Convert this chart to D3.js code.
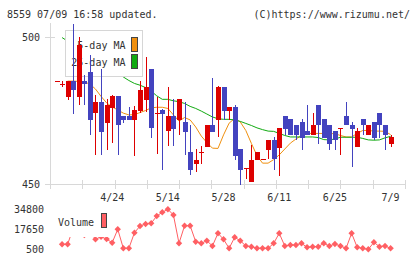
<!DOCTYPE html>
<html><head><meta charset="utf-8">
<script src="https://cdn.jsdelivr.net/npm/d3@7"></script>
<style>
html,body{margin:0;padding:0;background:#fff;}
svg{display:block;}
text{font-family:"DejaVu Sans Mono",monospace;font-size:10px;fill:#333;}
</style></head><body>
<svg id="c" width="420" height="259"></svg>
<script>
const titleText = "8559 07/09 16:58 updated.";
const creditText = "(C)https://www.rizumu.net/";
const dateIdx = [10, 20, 30, 40, 50, 60];
const dateText = ["4/24", "5/14", "5/28", "6/11", "6/25", "7/9"];
const priceTicks = [450, 500];
const volTicks = [500, 17650, 34800];

const open = [485.0,483.9,479.6,485.0,479.6,485.0,488.1,474.0,478.0,470.9,476.0,479.9,473.0,473.0,471.9,475.0,478.7,489.2,474.0,475.1,
  467.9,473.1,471.9,471.1,460.9,456.9,460.8,462.6,470.0,471.9,483.0,474.8,476.2,462.0,455.0,450.7,458.1,458.2,461.7,465.1,
  462.2,473.1,472.0,470.0,471.1,468.0,466.8,476.8,472.0,470.0,467.9,468.8,473.0,470.0,462.6,472.0,466.8,471.1,474.1,470.0,463.7];
const high = [485.0,485.0,485.0,504.5,500.0,487.0,493.9,480.3,489.1,478.9,480.2,480.0,473.0,476.3,476.5,485.0,493.2,489.2,479.6,475.5,
  483.0,478.9,479.0,477.9,470.0,462.0,462.9,470.2,486.1,483.2,483.0,476.2,477.0,462.0,455.3,463.2,460.9,458.6,465.1,466.0,
  469.0,473.1,472.0,470.0,472.0,476.8,474.1,476.8,472.0,470.0,467.9,468.9,477.9,471.1,469.0,472.0,470.0,471.1,474.1,470.0,466.8];
const low = [485.0,483.0,478.6,473.9,476.9,476.8,466.7,459.7,459.7,461.6,463.9,459.7,470.9,471.9,459.6,474.1,474.5,465.6,460.2,454.8,
  462.9,463.0,466.8,459.8,453.0,454.1,456.9,462.6,467.7,466.0,471.9,471.9,458.1,449.8,451.8,450.7,458.1,458.0,458.6,454.9,
  452.8,466.8,466.8,464.9,461.6,466.8,466.8,463.7,465.8,461.7,461.7,459.8,470.0,455.8,462.6,466.8,466.8,464.9,465.8,461.6,462.6];
const close = [485.0,484.0,485.0,481.9,497.3,483.9,471.9,478.0,467.8,476.9,479.9,469.9,471.9,471.9,475.1,481.9,483.0,468.9,474.1,473.9,
  473.1,468.8,478.8,467.7,454.9,458.1,460.9,470.0,467.7,483.0,474.8,476.2,459.5,454.9,455.3,458.3,460.9,458.4,465.1,458.6,
  469.0,468.8,466.8,466.8,465.8,466.8,470.0,470.0,465.8,463.7,464.9,468.9,470.0,468.8,467.9,470.0,470.0,465.8,470.0,466.8,466.0];
const ma5 = [null,null,485.0,485.0,484.9,484.7,484.0,482.3,479.8,477.6,476.2,475.2,474.1,473.5,473.6,474.3,475.0,475.9,476.1,476.1,
  475.7,473.5,471.4,472.6,471.8,469.4,466.3,464.1,462.2,462.1,466.7,470.7,472.3,471.1,468.2,463.8,459.7,457.1,457.1,458.3,
  459.9,461.9,463.9,465.3,466.5,467.2,467.2,467.2,467.2,467.2,467.1,466.5,466.0,466.0,467.2,468.2,468.2,468.0,468.0,467.9,466.8];
const ma25 = [null,499.8,498.6,497.6,496.5,495.3,494.2,493.0,491.6,490.3,489.0,487.6,486.4,485.2,484.2,483.6,482.8,481.6,480.0,478.8,
  478.8,478.3,478.0,477.4,476.4,475.7,474.8,473.8,472.8,472.2,472.0,472.0,471.8,471.3,470.6,469.9,469.1,468.5,468.0,467.9,
  467.2,466.5,466.0,466.0,466.0,466.0,466.0,465.8,465.1,465.0,465.3,465.9,465.9,465.9,465.9,465.5,465.0,464.9,465.0,465.7,466.2];
const volume = [null,4530,4530,18500,24000,12500,15500,8800,11000,9000,5900,17390,1100,1100,14480,20220,21940,22540,28800,31970,
  34540,29660,5390,20480,20480,6760,5390,7620,3070,13960,8820,1100,10530,7620,3070,2470,1100,1100,1100,5390,
  13960,3070,3930,3930,5390,1960,2470,2470,5390,3070,4790,3070,1100,13960,1960,1100,240,6250,2470,3070,1100];

const RED = "#dd0000", BLUE = "#4343bf", ORANGE = "#f0900f", GREEN = "#11aa11", VOL = "#ff5f63", AXIS = "#d8d8d8";

const svg = d3.select("#c");
const idx = d3.range(open.length);
const x = d3.scaleLinear().domain([0, 60]).range([56.5, 390.6]);
const y = d3.scaleLinear().domain([450, 500]).range([184, 37]);
const yv = d3.scaleLinear().domain([500, 34800]).range([249, 209]);
const tickPos = d3.scaleLinear().domain([0, 11]).range([50, 405]);

// header
svg.append("text").attr("x", 7).attr("y", 18).text(titleText);
svg.append("text").attr("x", 410).attr("y", 18).attr("text-anchor", "end").text(creditText);

// axes
const ax = svg.append("g").attr("shape-rendering", "crispEdges").attr("stroke", AXIS);
ax.append("line").attr("x1", 50.5).attr("x2", 50.5).attr("y1", 23).attr("y2", 189);
ax.append("line").attr("x1", 45).attr("x2", 405).attr("y1", 184.5).attr("y2", 184.5);
ax.selectAll("line.pt").data(priceTicks).enter().append("line")
  .attr("x1", 45).attr("x2", 55).attr("y1", d => Math.round(y(d)) + 0.5).attr("y2", d => Math.round(y(d)) + 0.5);
ax.selectAll("line.xt").data(d3.range(12)).enter().append("line")
  .attr("x1", d => Math.round(tickPos(d)) + 0.5).attr("x2", d => Math.round(tickPos(d)) + 0.5)
  .attr("y1", 180).attr("y2", 189);

svg.selectAll("text.py").data(priceTicks).enter().append("text")
  .attr("x", 40).attr("y", d => y(d) + 3.5).attr("text-anchor", "end").text(d => d);
svg.selectAll("text.dl").data(dateIdx).enter().append("text")
  .attr("x", d => x(d)).attr("y", 201).attr("text-anchor", "middle").text((d, k) => dateText[k]);
svg.selectAll("text.vy").data(volTicks).enter().append("text")
  .attr("x", 44).attr("y", d => yv(d) + 3.5).attr("text-anchor", "end").text(d => d);

// moving averages
function maLine(arr, color) {
  const line = d3.line().defined(d => arr[d] != null).x(d => x(d)).y(d => y(arr[d]));
  svg.append("path").datum(idx).attr("d", line).attr("fill", "none")
    .attr("stroke", color).attr("stroke-width", 1);
}
maLine(ma5, ORANGE);
maLine(ma25, GREEN);

// legend (main)
const lg = svg.append("g");
lg.append("rect").attr("x", 65.5).attr("y", 30.5).attr("width", 77).attr("height", 46)
  .attr("fill", "#fff").attr("stroke", "#d6d6d6").attr("shape-rendering", "crispEdges");
lg.append("text").attr("x", 125.5).attr("y", 49).attr("text-anchor", "end").text("5-day MA");
lg.append("text").attr("x", 125.5).attr("y", 66).attr("text-anchor", "end").text("25-day MA");
lg.append("rect").attr("x", 131.5).attr("y", 37.5).attr("width", 6).attr("height", 14)
  .attr("fill", ORANGE).attr("stroke", "#444").attr("shape-rendering", "crispEdges");
lg.append("rect").attr("x", 131.5).attr("y", 54.5).attr("width", 6).attr("height", 14)
  .attr("fill", GREEN).attr("stroke", "#444").attr("shape-rendering", "crispEdges");

// candles
const cg = svg.append("g").attr("shape-rendering", "crispEdges");
const col = i => close[i] >= open[i] ? RED : BLUE;
cg.selectAll("line.wick").data(idx).enter().append("line")
  .attr("x1", i => Math.round(x(i)) + 0.5).attr("x2", i => Math.round(x(i)) + 0.5)
  .attr("y1", i => y(high[i])).attr("y2", i => y(low[i]))
  .attr("stroke", col);
cg.selectAll("rect.body").data(idx).enter().append("rect")
  .attr("x", i => Math.round(x(i)) - 2)
  .attr("width", 5)
  .attr("y", i => Math.min(y(open[i]), y(close[i])))
  .attr("height", i => Math.max(1, Math.abs(y(open[i]) - y(close[i]))))
  .attr("fill", col);

// volume
const vline = d3.line().defined(d => volume[d] != null).x(d => x(d)).y(d => yv(volume[d]));
svg.append("path").datum(idx).attr("d", vline).attr("fill", "none").attr("stroke", VOL).attr("stroke-width", 1);
svg.selectAll("path.vd").data(idx.filter(i => volume[i] != null)).enter().append("path")
  .attr("d", d3.symbol().type(d3.symbolDiamond2).size(26))
  .attr("transform", i => `translate(${x(i)},${yv(volume[i])})`)
  .attr("fill", VOL);

// volume legend
svg.append("rect").attr("x", 55).attr("y", 207).attr("width", 55.5).attr("height", 30).attr("fill", "#fff");
svg.append("text").attr("x", 58).attr("y", 226).text("Volume");
svg.append("rect").attr("x", 101.5).attr("y", 213.5).attr("width", 5).attr("height", 14)
  .attr("fill", VOL).attr("stroke", "#444").attr("shape-rendering", "crispEdges");
</script>
</body></html>
